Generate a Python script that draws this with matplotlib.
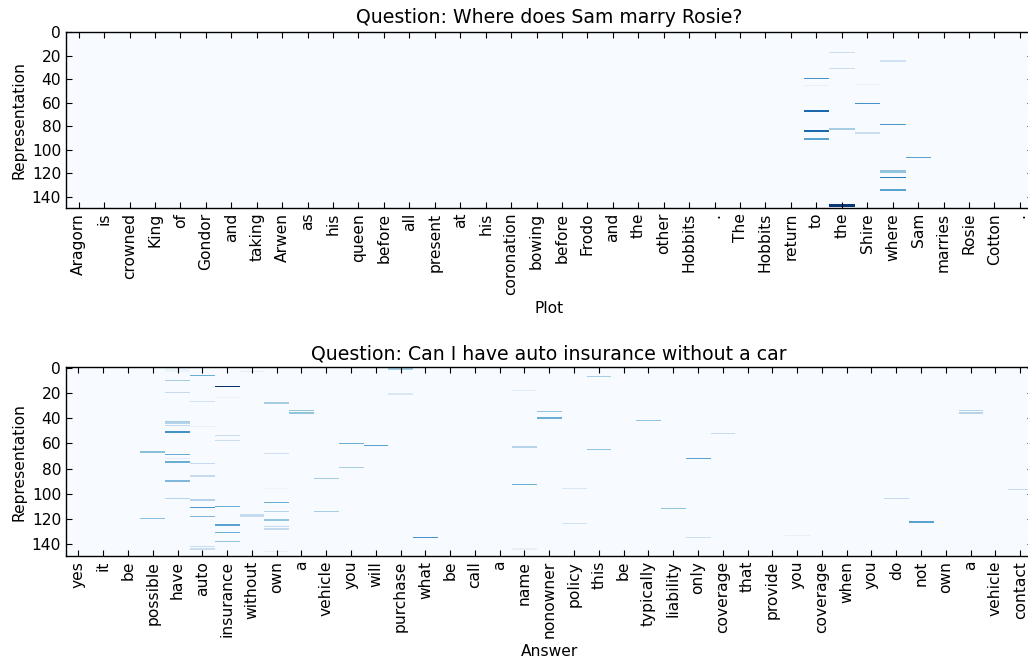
import numpy as np
import matplotlib
matplotlib.use("Agg")
import matplotlib.pyplot as plt

# tokens on the x axis
plot_tokens = ["Aragorn", "is", "crowned", "King", "of", "Gondor", "and", "taking",
               "Arwen", "as", "his", "queen", "before", "all", "present", "at", "his",
               "coronation", "bowing", "before", "Frodo", "and", "the", "other",
               "Hobbits", ".", "The", "Hobbits", "return", "to", "the", "Shire",
               "where", "Sam", "marries", "Rosie", "Cotton", "."]
answer_tokens = ["yes", "it", "be", "possible", "have", "auto", "insurance", "without",
                 "own", "a", "vehicle", "you", "will", "purchase", "what", "be", "call",
                 "a", "name", "nonowner", "policy", "this", "be", "typically", "liability",
                 "only", "coverage", "that", "provide", "you", "coverage", "when", "you",
                 "do", "not", "own", "a", "vehicle", "contact"]
n_dims = 150

# non-zero cells: token index, representation row, value
plot_cols = [29, 29, 29, 29, 29, 29, 29,
             30, 30, 30, 30, 30, 30,
             31, 31, 31,
             32, 32, 32, 32, 32, 32, 32,
             33]
plot_rows = [40, 46, 67, 68, 84, 85, 91,
             18, 31, 82, 83, 147, 148,
             45, 61, 86,
             25, 79, 118, 119, 124, 134, 135,
             107]
plot_vals = [0.62, 0.08, 0.78, 0.78, 0.78, 0.78, 0.55,
             0.22, 0.22, 0.35, 0.35, 0.97, 0.97,
             0.08, 0.62, 0.22,
             0.2, 0.6, 0.4, 0.4, 0.7, 0.55, 0.55,
             0.55]

answer_cols = [3, 3,
               4, 4, 4, 4, 4, 4, 4, 4, 4, 4, 4, 4, 4, 4,
               5, 5, 5, 5, 5, 5, 5, 5, 5, 5,
               6, 6, 6, 6, 6, 6, 6, 6,
               7, 7, 7,
               8, 8, 8, 8, 8, 8, 8, 8, 8,
               9, 9, 10, 10, 11, 11, 12, 13, 13, 14,
               18, 18, 18, 18, 19, 19, 20, 20, 21, 21,
               23, 24, 25, 25, 26, 29, 33, 34, 34, 36, 36, 38]
answer_rows = [67, 120,
               1, 2, 3, 10, 20, 43, 44, 46, 51, 69, 72, 75, 90, 104,
               6, 27, 47, 76, 86, 105, 111, 118, 142, 144,
               15, 24, 54, 58, 110, 125, 131, 138,
               3, 117, 118,
               28, 68, 96, 107, 114, 121, 126, 128, 146,
               34, 36, 88, 114, 60, 79, 62, 1, 21, 135,
               18, 63, 93, 144, 35, 40, 96, 124, 7, 65,
               42, 112, 72, 135, 52, 133, 104, 122, 123, 34, 36, 97]
answer_vals = [0.42, 0.42,
               0.06, 0.06, 0.06, 0.35, 0.25, 0.35, 0.3, 0.25, 0.62, 0.5, 0.1, 0.5, 0.45, 0.3,
               0.5, 0.2, 0.08, 0.25, 0.25, 0.3, 0.6, 0.45, 0.22, 0.22,
               1.0, 0.06, 0.22, 0.22, 0.5, 0.55, 0.5, 0.4,
               0.1, 0.25, 0.25,
               0.35, 0.2, 0.05, 0.5, 0.3, 0.4, 0.25, 0.25, 0.08,
               0.4, 0.4, 0.35, 0.35, 0.5, 0.35, 0.55, 0.35, 0.15, 0.62,
               0.1, 0.3, 0.5, 0.08, 0.4, 0.5, 0.15, 0.2, 0.35, 0.4,
               0.4, 0.4, 0.55, 0.22, 0.25, 0.08, 0.25, 0.55, 0.55, 0.3, 0.3, 0.25]

plt.rcParams['font.size'] = 11.2
plt.rcParams['axes.titlesize'] = 13.6
plt.rcParams['axes.linewidth'] = 1.0
plt.rcParams['xtick.direction'] = 'in'
plt.rcParams['ytick.direction'] = 'in'
plt.rcParams['xtick.top'] = True
plt.rcParams['ytick.right'] = True
plt.rcParams['xtick.major.size'] = 4
plt.rcParams['ytick.major.size'] = 4


def build(cols, rows, vals, n_tokens):
    m = np.zeros((n_dims, n_tokens))
    for c, r, v in zip(cols, rows, vals):
        m[r, c] = v
    return m


fig = plt.figure(figsize=(10.28, 6.62), dpi=100)
ax1 = fig.add_axes([0.0642, 0.6858, 0.9402, 0.2663])
ax2 = fig.add_axes([0.0642, 0.1601, 0.9402, 0.2850])

panels = [
    (ax1, build(plot_cols, plot_rows, plot_vals, len(plot_tokens)), plot_tokens,
     "Question: Where does Sam marry Rosie?", "Plot"),
    (ax2, build(answer_cols, answer_rows, answer_vals, len(answer_tokens)), answer_tokens,
     "Question: Can I have auto insurance without a car", "Answer"),
]

for ax, mat, tokens, title, xlab in panels:
    ax.imshow(mat, cmap="Blues", vmin=0, vmax=1, aspect="auto", interpolation="nearest")
    ax.set_xticks(range(len(tokens)))
    ax.set_xticklabels(tokens, rotation=90)
    ax.set_yticks(range(0, 150, 20))
    ax.set_title(title)
    ax.set_xlabel(xlab)
    ax.set_ylabel("Representation")

fig.savefig("out.png", dpi=100)
